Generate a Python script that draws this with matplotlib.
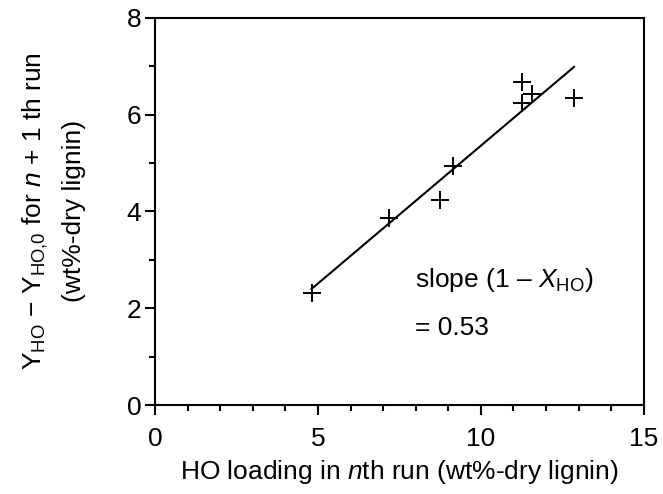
import numpy as np
import matplotlib
matplotlib.use("Agg")
import matplotlib.pyplot as plt
from matplotlib.ticker import MultipleLocator

plt.rcParams['font.family'] = ['Liberation Sans', 'DejaVu Sans']
plt.rcParams['mathtext.fontset'] = 'custom'
plt.rcParams['mathtext.rm'] = 'Liberation Sans'
plt.rcParams['mathtext.it'] = 'Liberation Sans:italic'
plt.rcParams['mathtext.default'] = 'regular'

# HO loading in nth run vs. HO yield increase in the following run
ho_loading = [4.80, 7.18, 8.73, 9.14, 11.25, 11.27, 11.56, 12.86]
yield_gain = [2.31, 3.86, 4.24, 4.94, 6.68, 6.25, 6.42, 6.34]

x_ticks = [0, 5, 10, 15]
y_ticks = [0, 2, 4, 6, 8]

FS = 19

fig = plt.figure(figsize=(6.63, 4.94), dpi=100)
ax = fig.add_axes([0.234, 0.180, 0.737, 0.784])

ax.plot(ho_loading, yield_gain, linestyle='none', marker='+', markersize=13,
        markeredgewidth=1.4, color='black')

# least-squares line across the measured range
coef = np.polyfit(ho_loading, yield_gain, 1)
xf = np.array([min(ho_loading), max(ho_loading)])
ax.plot(xf, np.polyval(coef, xf), color='black', linewidth=1.5)

ax.set_xlim(0, 15)
ax.set_ylim(0, 8)
ax.set_xticks(x_ticks)
ax.set_yticks(y_ticks)
ax.xaxis.set_minor_locator(MultipleLocator(1))
ax.yaxis.set_minor_locator(MultipleLocator(1))
ax.tick_params(which='major', direction='out', length=7, width=1.5,
               labelsize=FS, colors='black')
ax.tick_params(which='minor', direction='out', length=4, width=1.5)
ax.tick_params(axis='x', which='major', pad=9)
ax.tick_params(axis='y', which='major', pad=3)
for s in ax.spines.values():
    s.set_linewidth(1.5)

ax.set_xlabel('HO loading in $\\it{n}$th run (wt%-dry lignin)', fontsize=FS,
              labelpad=5)
ax.set_ylabel('Y$_{HO}$ \u2212 Y$_{HO{,}0}$ for $\\it{n}$ + 1 th run\n(wt%-dry lignin)',
              fontsize=FS, linespacing=1.65)
ax.yaxis.set_label_coords(-0.141, 0.5)

ax.text(7.98, 2.58, 'slope (1 \u2013 $\\it{X}$$_{HO}$)', fontsize=FS,
        va='center', ha='left')
ax.text(7.98, 1.59, '= 0.53', fontsize=FS, va='center', ha='left')

fig.savefig('out.png', dpi=100)
